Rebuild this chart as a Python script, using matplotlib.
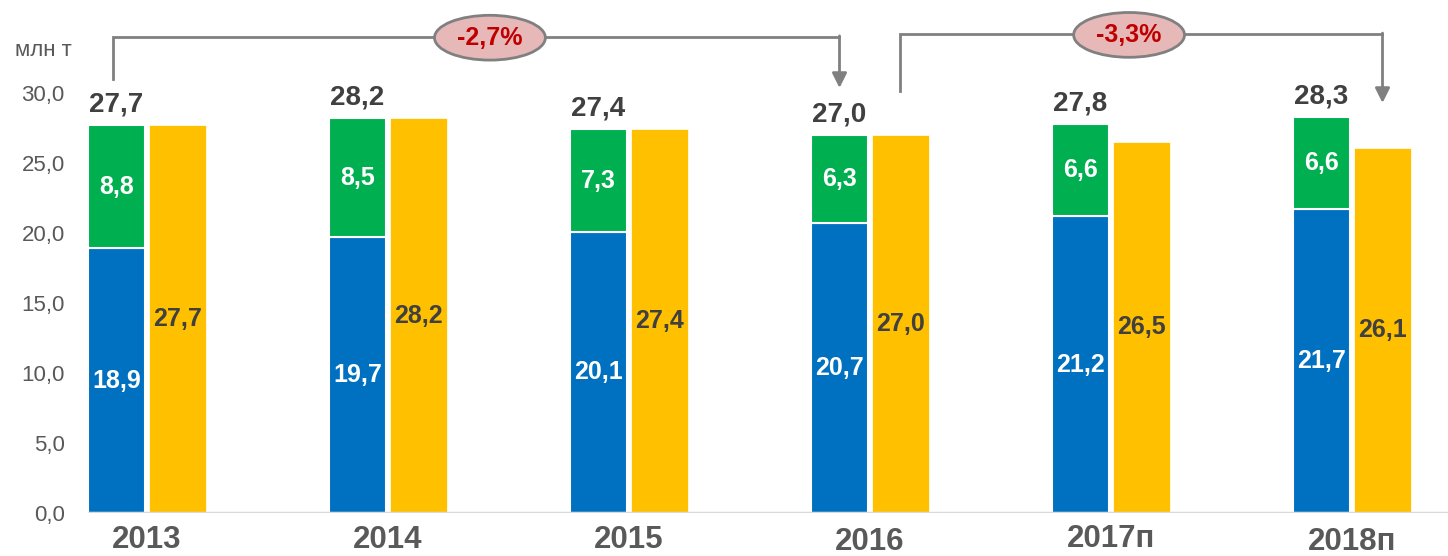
import matplotlib
matplotlib.use("Agg")
import matplotlib.pyplot as plt
from matplotlib.patches import Ellipse
from matplotlib.transforms import blended_transform_factory

# ---- data ----
years = ["2013", "2014", "2015", "2016", "2017п", "2018п"]
blue_vals = [18.9, 19.7, 20.1, 20.7, 21.2, 21.7]
green_vals = [8.8, 8.5, 7.3, 6.3, 6.6, 6.6]
totals = [27.7, 28.2, 27.4, 27.0, 27.8, 28.3]
yellow_vals = [27.7, 28.2, 27.4, 27.0, 26.5, 26.1]
yticks = [0, 5, 10, 15, 20, 25, 30]
ytick_labels = ["0,0", "5,0", "10,0", "15,0", "20,0", "25,0", "30,0"]
changes = ["-2,7%", "-3,3%"]
unit_label = "млн т"

def fmt(v):
    return f"{v:.1f}".replace(".", ",")

plt.rcParams['font.family'] = ['Liberation Sans', 'DejaVu Sans']

BLUE = "#0070C0"
GREEN = "#00B050"
YELLOW = "#FFC000"
DARK = "#404040"
GRAY = "#595959"

W, H = 1448, 556
fig = plt.figure(figsize=(W / 100, H / 100), dpi=100)
ax_left_px, ax_bottom_px, ax_top_px = 80, 513, 9
ax = fig.add_axes([ax_left_px / W, (H - ax_bottom_px) / H, (W - ax_left_px) / W,
                   (ax_bottom_px - ax_top_px) / H])

px_per_unit = 241.0
x0_px = 147.0
ax.set_xlim((ax_left_px - x0_px) / px_per_unit, (W - x0_px) / px_per_unit)
ax.set_ylim(0, 36)

bw = 57 / px_per_unit
off = 30.5 / px_per_unit
xs = list(range(len(years)))
xb = [x - off for x in xs]
xy = [x + off for x in xs]

ax.bar(xb, blue_vals, width=bw, color=BLUE, edgecolor="white", linewidth=1.5, zorder=3)
ax.bar(xb, green_vals, bottom=blue_vals, width=bw, color=GREEN, edgecolor="white",
       linewidth=1.5, zorder=3)
ax.bar(xy, yellow_vals, width=bw, color=YELLOW, edgecolor="white", linewidth=0.5, zorder=3)

for i in xs:
    ax.text(xb[i], blue_vals[i] / 2, fmt(blue_vals[i]), ha="center", va="center",
            color="white", fontsize=18, fontweight="bold", zorder=4)
    ax.text(xb[i], blue_vals[i] + green_vals[i] / 2, fmt(green_vals[i]), ha="center",
            va="center", color="white", fontsize=18, fontweight="bold", zorder=4)
    ax.text(xy[i], yellow_vals[i] / 2, fmt(yellow_vals[i]), ha="center", va="center",
            color=DARK, fontsize=18, fontweight="bold", zorder=4)
    ax.text(xb[i], totals[i] + 0.55, fmt(totals[i]), ha="center", va="bottom",
            color=DARK, fontsize=20, fontweight="bold", zorder=4)

# year labels
trans = blended_transform_factory(ax.transData, ax.transAxes)
year_dy = [-27, -27, -27, -29.5, -26, -29.5]
for i in xs:
    ax.annotate(years[i], xy=(xs[i], 0), xycoords=trans, xytext=(0, year_dy[i] * 0.72),
                textcoords="offset points", ha="center", va="center",
                fontsize=22.5, fontweight="bold", color=GRAY)

# axis styling
for s in ax.spines.values():
    s.set_visible(False)
ax.set_xticks([])
ax.set_yticks(yticks)
ax.set_yticklabels(ytick_labels, fontsize=16, color=GRAY)
ax.tick_params(axis="y", length=0, pad=11)
ax.hlines(0, xb[0] - bw / 2, ax.get_xlim()[1], color="#D9D9D9", linewidth=2.5, zorder=5)

fig.text(15 / W, 1 - 50 / H, unit_label, fontsize=16, color=GRAY, ha="left", va="center")

# brackets with change annotations
def bracket(x1, y1, x2, y2, ytop, xe, label):
    ax.plot([x1, x1, x2], [y1, ytop, ytop], color="#808080", lw=2, zorder=2,
            clip_on=False, solid_joinstyle="miter")
    ax.annotate("", xy=(x2, y2), xytext=(x2, ytop + 0.08),
                arrowprops=dict(arrowstyle="-|>", color="#808080", lw=2,
                                mutation_scale=22, shrinkA=0, shrinkB=0), zorder=2)
    e = Ellipse((xe, ytop - 0.05), width=0.46, height=3.2, facecolor="#E6B8B7",
                edgecolor="#808080", lw=2, zorder=3, clip_on=False)
    ax.add_patch(e)
    ax.text(xe, ytop - 0.05, label, ha="center", va="center", color="#C00000",
            fontsize=18, fontweight="bold", zorder=4)

bracket(xb[0] - 0.015, 31.0, xb[3], 30.36, 34.0, 1.423, changes[0])
bracket(xy[3], 30.14, xy[5], 29.29, 34.2, 4.075, changes[1])

fig.savefig("out.png", dpi=100)
